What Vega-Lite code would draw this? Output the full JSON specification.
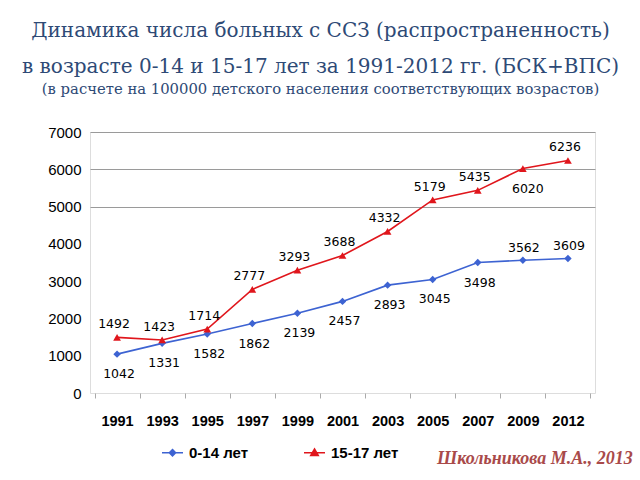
{
  "$schema": "https://vega.github.io/schema/vega-lite/v6.json",
  "width": 505,
  "height": 261,
  "autosize": {"type": "none"},
  "padding": {"left": 90, "top": 132, "right": 45, "bottom": 87},
  "background": "white",
  "title": {
    "text": ["Динамика числа больных с ССЗ (распространенность)", "в возрасте 0-14 и 15-17 лет за 1991-2012 гг. (БСК+ВПС)"],
    "subtitle": "(в расчете на 100000 детского населения соответствующих возрастов)",
    "anchor": "middle",
    "frame": "group",
    "dx": -22,
    "font": "DejaVu Serif",
    "fontSize": 20,
    "fontWeight": "normal",
    "color": "#2e4a76",
    "lineHeight": 36,
    "subtitleFont": "DejaVu Serif",
    "subtitleFontSize": 14.8,
    "subtitleFontWeight": "normal",
    "subtitleColor": "#2e4a76",
    "subtitlePadding": 5,
    "offset": 28
  },
  "data": {
    "values": [
      {"year": "1991", "group": "0-14 лет", "value": 1042},
      {"year": "1993", "group": "0-14 лет", "value": 1331},
      {"year": "1995", "group": "0-14 лет", "value": 1582},
      {"year": "1997", "group": "0-14 лет", "value": 1862},
      {"year": "1999", "group": "0-14 лет", "value": 2139},
      {"year": "2001", "group": "0-14 лет", "value": 2457},
      {"year": "2003", "group": "0-14 лет", "value": 2893},
      {"year": "2005", "group": "0-14 лет", "value": 3045},
      {"year": "2007", "group": "0-14 лет", "value": 3498},
      {"year": "2009", "group": "0-14 лет", "value": 3562},
      {"year": "2012", "group": "0-14 лет", "value": 3609},
      {"year": "1991", "group": "15-17 лет", "value": 1492},
      {"year": "1993", "group": "15-17 лет", "value": 1423},
      {"year": "1995", "group": "15-17 лет", "value": 1714},
      {"year": "1997", "group": "15-17 лет", "value": 2777},
      {"year": "1999", "group": "15-17 лет", "value": 3293},
      {"year": "2001", "group": "15-17 лет", "value": 3688},
      {"year": "2003", "group": "15-17 лет", "value": 4332},
      {"year": "2005", "group": "15-17 лет", "value": 5179},
      {"year": "2007", "group": "15-17 лет", "value": 5435},
      {"year": "2009", "group": "15-17 лет", "value": 6020},
      {"year": "2012", "group": "15-17 лет", "value": 6236}
    ]
  },
  "encoding": {
    "x": {
      "field": "year",
      "type": "ordinal",
      "scale": {"type": "band", "paddingInner": 0, "paddingOuter": 0.1},
      "axis": {
        "title": null,
        "labelAngle": 0,
        "labelFont": "Liberation Sans",
        "labelFontSize": 14.5,
        "labelFontWeight": "bold",
        "labelColor": "#000000",
        "labelPadding": 16,
        "domain": false,
        "grid": false,
        "ticks": true,
        "tickBand": "extent",
        "tickColor": "#aaaaaa",
        "tickSize": 5
      }
    },
    "y": {
      "field": "value",
      "type": "quantitative",
      "scale": {"domain": [0, 7000], "nice": false},
      "axis": {
        "title": null,
        "values": [0, 1000, 2000, 3000, 4000, 5000, 6000, 7000],
        "format": "d",
        "labelFont": "Liberation Sans",
        "labelFontSize": 15,
        "labelColor": "#000000",
        "labelPadding": 9,
        "domain": false,
        "ticks": false,
        "grid": true,
        "gridColor": {"condition": {"test": "datum.value >= 5000", "value": "#9a9a9a"}, "value": "transparent"},
        "gridWidth": 1
      }
    },
    "color": {
      "field": "group",
      "type": "nominal",
      "scale": {"domain": ["0-14 лет", "15-17 лет"], "range": ["#3d63d2", "#e0161c"]},
      "legend": {
        "title": null,
        "orient": "none",
        "legendX": 71,
        "legendY": 309,
        "direction": "horizontal",
        "labelFont": "Liberation Sans",
        "labelFontSize": 15,
        "labelFontWeight": "bold",
        "labelColor": "#000000",
        "labelOffset": 5,
        "symbolSize": 441,
        "symbolType": "M-1,0H1M0,-0.3L0.3,0L0,0.3L-0.3,0Z",
        "symbolStrokeWidth": 1.5,
        "columnPadding": 52,
        "encode": {
          "symbols": {
            "update": {
              "shape": {"signal": "datum.value === '0-14 лет' ? 'M-1,0H1M0,-0.3L0.3,0L0,0.3L-0.3,0Z' : 'M-1,0H1M0,-0.36L0.36,0.26L-0.36,0.26Z'"},
              "fill": {"signal": "scale('color', datum.value)"},
              "stroke": {"signal": "scale('color', datum.value)"},
              "strokeWidth": {"value": 1.5},
              "opacity": {"value": 1}
            }
          }
        }
      }
    }
  },
  "layer": [
    {"mark": {"type": "line", "strokeWidth": 1.6}},
    {
      "transform": [{"filter": "datum.group === '0-14 лет'"}],
      "mark": {"type": "point", "filled": true, "opacity": 1, "shape": "diamond", "size": 55}
    },
    {
      "transform": [{"filter": "datum.group === '15-17 лет'"}],
      "mark": {"type": "point", "filled": true, "opacity": 1, "shape": "triangle-up", "size": 60}
    },
    {
      "transform": [{"filter": "datum.group === '15-17 лет' && datum.year !== '2009'"}],
      "mark": {"type": "text", "font": "DejaVu Sans", "fontSize": 12.5, "dy": -13, "dx": -3},
      "encoding": {"text": {"field": "value", "type": "quantitative", "format": "d"}, "color": {"value": "#000000"}}
    },
    {
      "transform": [{"filter": "datum.group === '15-17 лет' && datum.year === '2009'"}],
      "mark": {"type": "text", "font": "DejaVu Sans", "fontSize": 12.5, "dy": 20, "dx": 5},
      "encoding": {"text": {"field": "value", "type": "quantitative", "format": "d"}, "color": {"value": "#000000"}}
    },
    {
      "transform": [{"filter": "datum.group === '0-14 лет' && datum.year !== '2009' && datum.year !== '2012'"}],
      "mark": {"type": "text", "font": "DejaVu Sans", "fontSize": 12.5, "dy": 20, "dx": 2},
      "encoding": {"text": {"field": "value", "type": "quantitative", "format": "d"}, "color": {"value": "#000000"}}
    },
    {
      "transform": [{"filter": "datum.group === '0-14 лет' && (datum.year === '2009' || datum.year === '2012')"}],
      "mark": {"type": "text", "font": "DejaVu Sans", "fontSize": 12.5, "dy": -12, "dx": 1},
      "encoding": {"text": {"field": "value", "type": "quantitative", "format": "d"}, "color": {"value": "#000000"}}
    },
    {
      "transform": [{"filter": "datum.group === '0-14 лет' && datum.year === '2009'"}],
      "mark": {"type": "text", "font": "Liberation Serif", "fontSize": 18, "fontStyle": "italic", "fontWeight": "bold", "dx": 12},
      "encoding": {
        "y": {"datum": -1760},
        "text": {"value": "Школьникова М.А., 2013"},
        "color": {"value": "#a94a4a"}
      }
    }
  ]
}
